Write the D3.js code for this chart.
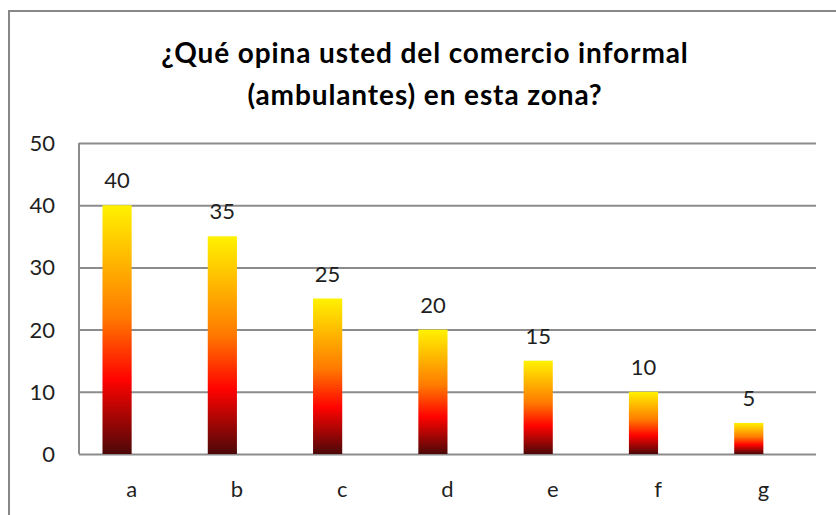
<!DOCTYPE html>
<html>
<head>
<meta charset="utf-8">
<script src="https://cdn.jsdelivr.net/npm/d3@7"></script>
<style>
  body { margin: 0; background: #fff; }
  text { font-family: Lato, "Open Sans", sans-serif; fill: #1f1f1f; }
</style>
</head>
<body>
<div class="chart-wrapper"></div>
<script>
// data
const categories = ["a", "b", "c", "d", "e", "f", "g"]
const values = [40, 35, 25, 20, 15, 10, 5]
const yTicks = [0, 10, 20, 30, 40, 50]
const titleLines = ["¿Qué opina usted del comercio informal", "(ambulantes) en esta zona?"]

let svg = d3.select(".chart-wrapper").append("svg").attr("width", 836).attr("height", 515),
    margin = {top: 143, right: 20, bottom: 61, left: 79},
    width = 836 - margin.left - margin.right,
    height = 515 - margin.top - margin.bottom;

// office "fire" style gradient
let grad = svg.append("defs").append("linearGradient")
    .attr("id", "fire")
    .attr("x1", 0).attr("y1", 0).attr("x2", 0).attr("y2", 1);
[[0, "#fff200"], [0.45, "#ff7a00"], [0.7, "#ff0300"], [1, "#4d0808"]].forEach(s => {
  grad.append("stop").attr("offset", s[0]).attr("stop-color", s[1])
})

// chart border
svg.append("rect")
    .attr("x", 9).attr("y", 11)
    .attr("width", 900).attr("height", 600)
    .attr("fill", "none")
    .attr("stroke", "#878787")
    .attr("stroke-width", 2)

svg.append("g").selectAll("text")
    .data(titleLines)
    .enter().append("text")
    .attr("x", 425)
    .attr("y", (d, i) => 63 + i * 42)
    .attr("text-anchor", "middle")
    .style("font-size", "28px")
    .style("letter-spacing", "0.9px")
    .style("font-weight", "bold")
    .style("fill", "#000")
    .text(d => d)

let x = d3.scaleBand()
    .domain(categories)
    .range([0, width])

let y = d3.scaleLinear()
    .domain([0, 50])
    .range([height, 0])

let g = svg.append("g").attr("transform", "translate(" + margin.left + "," + margin.top + ")")

// gridlines
g.append("g")
    .attr("class", "grid")
    .call(d3.axisLeft(y).tickValues(yTicks).tickSize(-width).tickFormat(""))
    .call(a => a.select(".domain").remove())
    .selectAll("line")
    .attr("stroke", "#8c8c8c")
    .attr("stroke-width", 2)

// y axis line + labels
g.append("line")
    .attr("x1", 0).attr("x2", 0)
    .attr("y1", y(50)).attr("y2", y(0))
    .attr("stroke", "#8c8c8c")
    .attr("stroke-width", 2)

g.append("g").selectAll("text")
    .data(yTicks)
    .enter().append("text")
    .attr("x", -24)
    .attr("y", d => y(d) + 8)
    .attr("text-anchor", "end")
    .style("font-size", "22px")
    .text(d => d)

// x labels
g.append("g").selectAll("text")
    .data(categories)
    .enter().append("text")
    .attr("x", d => x(d) + x.bandwidth() / 2)
    .attr("y", height + 43)
    .attr("text-anchor", "middle")
    .style("font-size", "22px")
    .text(d => d)

let barW = x.bandwidth() * 0.277

// bars sit just left of the category centre
g.append("g").selectAll("rect")
    .data(values)
    .enter().append("rect")
    .attr("x", (d, i) => x(categories[i]) + x.bandwidth() / 2 - barW)
    .attr("y", d => y(d))
    .attr("width", barW)
    .attr("height", d => height - y(d))
    .attr("fill", "url(#fire)")

g.append("g").selectAll("text")
    .data(values)
    .enter().append("text")
    .attr("x", (d, i) => x(categories[i]) + x.bandwidth() / 2 - barW / 2)
    .attr("y", d => y(d) - 17)
    .attr("text-anchor", "middle")
    .style("font-size", "22px")
    .text(d => d)
</script>
</body>
</html>
